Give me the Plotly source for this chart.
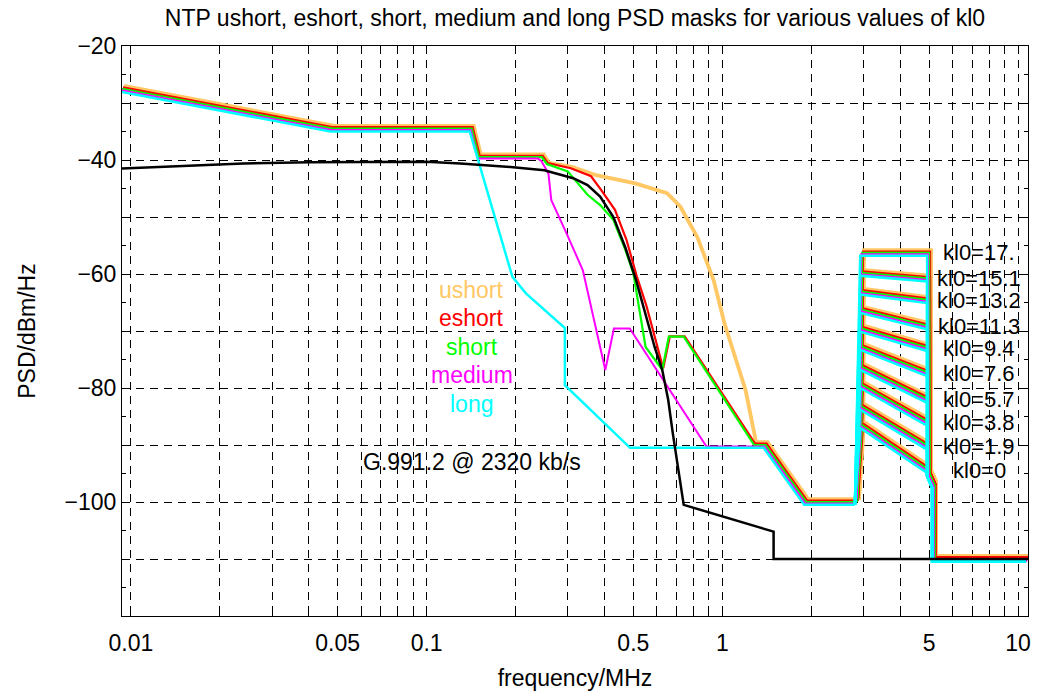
import numpy as np
import plotly.graph_objects as go

# ---- data (frequency in MHz, PSD in dBm/Hz) ----
USHORT_F = [0.00933, 0.048, 0.142, 0.150, 0.245, 0.255, 0.305, 0.365, 0.50, 0.64, 0.71,
            0.81, 0.92, 1.0, 1.18, 1.28, 1.40, 1.92, 2.85]
USHORT_PSD = [-27.5, -34.5, -34.5, -39.5, -39.5, -41.0, -41.7, -43.1, -44.6, -46.3, -48.7,
              -54.0, -61.6, -69.1, -80.9, -90, -90, -100, -100]

ESHORT_F = [0.00933, 0.048, 0.142, 0.150, 0.245, 0.255, 0.305, 0.357, 0.386, 0.43, 0.47,
            0.51, 0.55, 0.626, 0.659, 0.74, 1.28, 1.40, 1.92, 2.85]
ESHORT_PSD = [-27.5, -34.5, -34.5, -39.5, -39.5, -40.8, -41.7, -43.1, -45.5, -49.0, -54.2,
              -60.7, -65.9, -76.8, -71.2, -71.2, -90, -90, -100, -100]

SHORT_F = [0.00933, 0.048, 0.142, 0.150, 0.245, 0.255, 0.30, 0.35, 0.386, 0.428, 0.47,
           0.50, 0.55, 0.626, 0.659, 0.74, 1.28, 1.40, 1.92, 2.85]
SHORT_PSD = [-27.5, -34.5, -34.5, -39.5, -39.5, -40.7, -42.0, -46.1, -47.9, -50.5, -55.8,
             -59.9, -72.8, -76.8, -71.0, -71.0, -90, -90, -100, -100]

MEDIUM_F = [0.00933, 0.048, 0.142, 0.150, 0.240, 0.246, 0.26, 0.266, 0.30, 0.34, 0.405,
            0.433, 0.49, 0.89, 1.40, 1.92, 2.85]
MEDIUM_PSD = [-27.5, -34.5, -34.5, -39.5, -39.5, -39.9, -42.1, -46.8, -52.7, -59.1, -76.6,
              -69.3, -69.3, -90, -90, -100, -100]

LONG_F = [0.00933, 0.048, 0.142, 0.198, 0.22, 0.298, 0.298, 0.495, 1.40, 1.92, 2.85]
LONG_PSD = [-27.5, -34.5, -34.5, -60.0, -62.9, -69.0, -79.0, -90, -90, -100, -100]

# kl0 dependent high band: floor end / band start / band end frequency
KL0 = ["17.", "15.1", "13.2", "11.3", "9.4", "7.6", "5.7", "3.8", "1.9", "0"]
HB_F = [2.85, 2.97, 5.0]
HB_START_PSD = [-56.3, -59.8, -63.1, -66.3, -69.6, -72.8, -76.3, -79.5, -83.3, -86.5]
HB_END_PSD = [-56.3, -60.8, -64.6, -69.2, -73.0, -77.4, -82.1, -86.1, -90.3, -94.4]
TAIL_F = [5.0, 5.2, 5.2, 10.8]
TAIL_PSD = [-95, -97, -110, -110]

# G.991.2 @ 2320 kb/s
G_F = [0.00933, 0.015, 0.024, 0.04, 0.07, 0.1, 0.13, 0.16, 0.2, 0.25, 0.313, 0.35, 0.386,
       0.428, 0.47, 0.51, 0.55, 0.59, 0.626, 0.656, 0.68, 0.74, 1.49, 1.49, 10.8]
G_PSD = [-41.5, -41.0, -40.6, -40.4, -40.3, -40.3, -40.6, -40.9, -41.3, -41.8, -43.2, -44.4,
         -46.4, -50.0, -55.4, -61.0, -66.9, -72.8, -76.8, -82.1, -88.0, -100.5, -105.2,
         -110.0, -110.0]

MASKS = [
    ("ushort", USHORT_F, USHORT_PSD, "#FFC864", 3.8),
    ("eshort", ESHORT_F, ESHORT_PSD, "#FF0000", 2.2),
    ("short", SHORT_F, SHORT_PSD, "#00FF00", 2.2),
    ("medium", MEDIUM_F, MEDIUM_PSD, "#FF00FF", 2.0),
    ("long", LONG_F, LONG_PSD, "#00FFFF", 2.5),
]
# small per-mask display nudge so overlapping masks stay visible
NUDGE_DB = [0.5, 0.25, 0.0, -0.25, -0.5]
NUDGE_DEC = [0.0067, 0.0033, 0.0, -0.0033, -0.0067]

FONT = "Liberation Sans, Arial, sans-serif"

fig = go.Figure()

for (name, f, psd, color, width), ddb, ddec in zip(MASKS, NUDGE_DB, NUDGE_DEC):
    xs = list(f) + [None]
    ys = list(psd) + [None]
    for s, e in zip(HB_START_PSD, HB_END_PSD):
        xs += HB_F + TAIL_F + [None]
        ys += [-100, s, e] + TAIL_PSD + [None]
    k = 10 ** ddec
    xs = [None if v is None else v * k for v in xs]
    ys = [None if v is None else v + ddb for v in ys]
    fig.add_trace(go.Scatter(x=xs, y=ys, mode="lines", name=name,
                             line=dict(color=color, width=width), hoverinfo="skip"))

fig.add_trace(go.Scatter(x=G_F, y=G_PSD, mode="lines", name="G.991.2",
                         line=dict(color="black", width=2.5), hoverinfo="skip"))

# mask name labels
for (name, _, _, color, _), y in zip(MASKS, [-62.8, -67.7, -72.8, -77.7, -82.8]):
    fig.add_annotation(x=np.log10(0.142), y=y, text=name, showarrow=False,
                       font=dict(color=color, size=23, family=FONT))

fig.add_annotation(x=np.log10(0.142), y=-93, text="G.991.2 @ 2320 kb/s", showarrow=False,
                   font=dict(color="black", size=23, family=FONT))

for lab, y in zip(KL0, HB_END_PSD):
    fig.add_annotation(x=np.log10(7.4), y=y, text="kl0=" + lab, showarrow=False,
                       font=dict(color="black", size=22, family=FONT))

# log axis ticks at every 1..9 x 10^k, labelled only at 1 and 5
xt, xl = [], []
for dec in [0.01, 0.1, 1, 10]:
    for m in range(1, 10):
        v = round(dec * m, 6)
        if v > 10.8:
            break
        xt.append(v)
        xl.append(f"{v:g}" if m in (1, 5) else "")

yt = list(range(-120, -10, 10))
yl = [("\u2212" + str(-v)) if v % 20 == 0 and v > -120 else "" for v in yt]

grid = dict(showgrid=True, gridcolor="black", gridwidth=1, griddash="8px,6px",
            showline=True, linecolor="black", linewidth=1, mirror="ticks",
            ticks="inside", ticklen=7, tickcolor="black", zeroline=False, automargin=False)

fig.update_layout(
    width=1030, height=683,
    title=dict(text="NTP ushort, eshort, short, medium and long PSD masks for various values of kl0",
               xref="paper", x=0.5, xanchor="center", yref="container", y=0.985, yanchor="middle",
               font=dict(size=23, family=FONT, color="black")),
    xaxis=dict(type="log", range=[np.log10(0.00933), np.log10(10.8)],
               tickvals=xt, ticktext=xl, ticklabelstandoff=6,
               title=dict(text="frequency/MHz", font=dict(size=23, family=FONT, color="black"),
                          standoff=22),
               tickfont=dict(size=23, family=FONT, color="black"), **grid),
    yaxis=dict(range=[-120, -20], tickvals=yt, ticktext=yl,
               title=dict(text="PSD/dBm/Hz", font=dict(size=23, family=FONT, color="black"),
                          standoff=22),
               tickfont=dict(size=23, family=FONT, color="black"),
               minor=dict(dtick=5, ticks="inside", ticklen=4, tickcolor="black", showgrid=False),
               **grid),
    margin=dict(l=114, r=10, t=38, b=75),
    showlegend=False,
    paper_bgcolor="white",
    plot_bgcolor="white",
)

fig.write_html("out.html")
